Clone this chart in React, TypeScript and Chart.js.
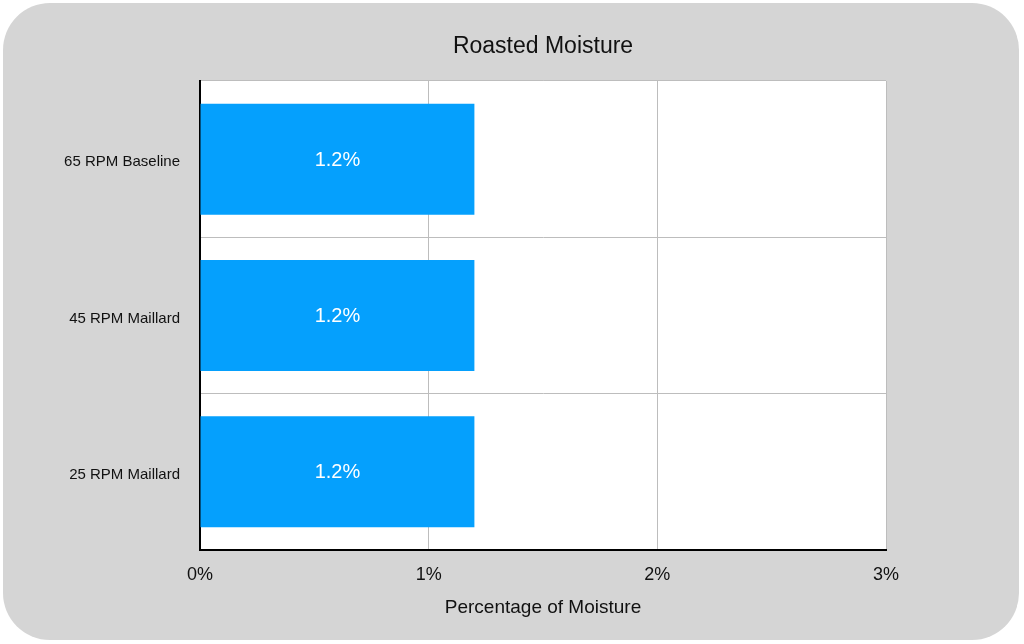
import React, { useEffect, useRef } from "react";
import { Chart, registerables } from "chart.js";

Chart.register(...registerables);

const categories = ["65 RPM Baseline", "45 RPM Maillard", "25 RPM Maillard"];
const moistureValues = [1.2, 1.2, 1.2];
const xTickValues = [0, 1, 2, 3];

const FONT = "'Liberation Sans', Arial, Helvetica, sans-serif";

const plotBackgroundPlugin = {
  id: "plotBackground",
  beforeDraw(chart: any) {
    const { ctx, chartArea } = chart;
    ctx.save();
    ctx.fillStyle = "#ffffff";
    ctx.fillRect(chartArea.left, chartArea.top, chartArea.right - chartArea.left, chartArea.bottom - chartArea.top);
    ctx.restore();
  },
};

const barLabelPlugin = {
  id: "barLabels",
  afterDatasetsDraw(chart: any) {
    const ctx = chart.ctx;
    const meta = chart.getDatasetMeta(0);
    ctx.save();
    ctx.fillStyle = "#ffffff";
    ctx.font = `20px ${FONT}`;
    ctx.textAlign = "center";
    ctx.textBaseline = "middle";
    meta.data.forEach((bar: any, i: number) => {
      const { x, y, base } = bar.getProps(["x", "y", "base"], true);
      ctx.fillText(`${moistureValues[i]}%`, (x + base) / 2, y + 1);
    });
    ctx.restore();
  },
};

export default function App() {
  const canvasRef = useRef<HTMLCanvasElement | null>(null);

  useEffect(() => {
    if (!canvasRef.current) return;
    const chart = new Chart(canvasRef.current, {
      type: "bar",
      data: {
        labels: categories,
        datasets: [
          {
            label: "Percentage of Moisture",
            data: moistureValues,
            backgroundColor: "#05a0fd",
            borderWidth: 0,
            barPercentage: 0.71,
            categoryPercentage: 1,
          },
        ],
      },
      options: {
        indexAxis: "y",
        animation: false,
        responsive: false,
        devicePixelRatio: 1,
        layout: { padding: { left: 0, right: 138, top: 0, bottom: 0 } },
        plugins: {
          legend: { display: false },
          tooltip: { enabled: false },
          title: {
            display: true,
            text: "Roasted Moisture",
            color: "#111111",
            fullSize: false,
            font: { family: FONT, size: 23, weight: "normal", lineHeight: 1.2 },
            padding: { top: 33, bottom: 20.4 },
          },
        },
        scales: {
          x: {
            type: "linear",
            min: 0,
            max: 3,
            afterBuildTicks(scale: any) {
              scale.ticks = xTickValues.map((v) => ({ value: v }));
            },
            afterFit(scale: any) {
              scale.height = 94;
            },
            grid: { color: "#bdbdbd", lineWidth: 1, drawTicks: false },
            border: { color: "#000000", width: 2 },
            ticks: {
              padding: 14,
              color: "#111111",
              font: { family: FONT, size: 18 },
              callback: (v: any) => `${v}%`,
            },
            title: {
              display: true,
              text: "Percentage of Moisture",
              color: "#111111",
              font: { family: FONT, size: 19, lineHeight: 1.2 },
              padding: { top: 0, bottom: 24.6 },
            },
          },
          y: {
            type: "category",
            afterFit(scale: any) {
              scale.width = 200;
            },
            grid: { color: "#bdbdbd", lineWidth: 1, drawTicks: false, offset: true },
            border: { color: "#000000", width: 2 },
            ticks: {
              padding: 20,
              labelOffset: 3,
              color: "#111111",
              font: { family: FONT, size: 15 },
            },
          },
        },
      },
      plugins: [plotBackgroundPlugin, barLabelPlugin],
    } as any);
    return () => chart.destroy();
  }, []);

  return (
    <div
      style={{
        position: "fixed",
        left: 0,
        top: 0,
        width: 1024,
        height: 644,
        background: "#ffffff",
        overflow: "hidden",
      }}
    >
      <div
        style={{
          position: "absolute",
          left: 3,
          top: 3,
          width: 1016,
          height: 637,
          borderRadius: 47,
          background: "#d5d5d5",
        }}
      />
      <canvas
        ref={canvasRef}
        width={1024}
        height={644}
        style={{ position: "absolute", left: 0, top: 0, width: 1024, height: 644 }}
      />
    </div>
  );
}
